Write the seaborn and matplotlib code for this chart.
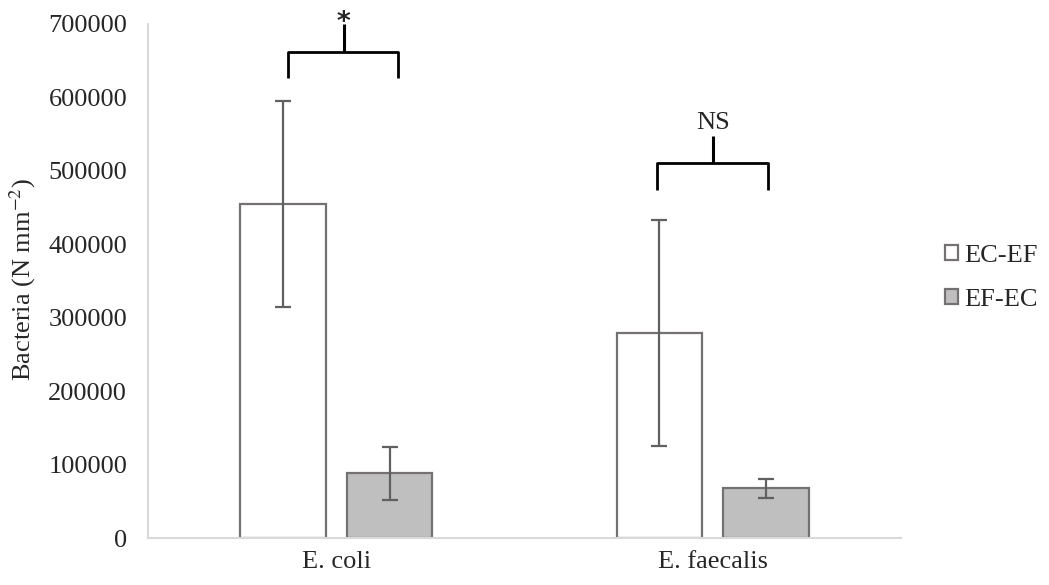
import matplotlib
matplotlib.use("Agg")
import matplotlib.pyplot as plt
import seaborn as sns
import pandas as pd
import numpy as np
from matplotlib.patches import Patch

# ---- data ----
categories = ["E. coli", "E. faecalis"]
groups = ["EC-EF", "EF-EC"]
ec_ef_mean = [455000, 279000]
ec_ef_err = [140000, 154000]
ef_ec_mean = [88000, 68000]
ef_ec_err = [36000, 13000]
sig_labels = ["*", "NS"]
bracket_y = [662000, 511000]      # bracket bar height (data units)
bracket_leg = [626000, 474000]    # leg bottom
bracket_top = [700000, 547500]    # centre tick top
yticks = [0, 100000, 200000, 300000, 400000, 500000, 600000, 700000]

df = pd.DataFrame({
    "cat": categories * 2,
    "grp": [groups[0]] * 2 + [groups[1]] * 2,
    "val": ec_ef_mean + ef_ec_mean,
})
errs = {groups[0]: ec_ef_err, groups[1]: ef_ec_err}

sns.set_style("white")
plt.rcParams["font.family"] = ["Liberation Serif", "DejaVu Serif"]
plt.rcParams["mathtext.fontset"] = "stix"

fig = plt.figure(figsize=(10.49, 5.85), dpi=100)
ax = fig.add_axes([0.1411, 0.0803, 0.7178, 0.8787])

palette = {groups[0]: "#ffffff", groups[1]: "#bfbfbf"}
sns.barplot(data=df, x="cat", y="val", hue="grp", order=categories,
            hue_order=groups, palette=palette, width=0.566, gap=0.2,
            errorbar=None, edgecolor="#767171", linewidth=1.6, ax=ax,
            legend=False)

# error bars from the drawn patches
for gi, g in enumerate(groups):
    cont = ax.containers[gi]
    for ci, bar in enumerate(cont):
        xc = bar.get_x() + bar.get_width() / 2
        ax.errorbar(xc, bar.get_height(), yerr=errs[g][ci], fmt="none",
                    ecolor="#606060", elinewidth=1.6, capsize=6,
                    capthick=1.6, zorder=5)

# significance brackets
offsets = [(-0.129, 0.165, 0.02), (-0.147, 0.147, 0.0)]
for i, lab in enumerate(sig_labels):
    l, r, c = offsets[i]
    xl, xr, xc = i + l, i + r, i + c
    ax.plot([xl, xl, xr, xr], [bracket_leg[i], bracket_y[i], bracket_y[i], bracket_leg[i]],
            color="black", lw=2, clip_on=False, solid_capstyle="butt")
    ax.plot([xc, xc], [bracket_y[i], bracket_top[i]], color="black", lw=2.2,
            clip_on=False, solid_capstyle="butt")
    if lab == "*":
        ax.text(xc, 692000, lab, ha="center", va="baseline",
                fontsize=19, family="DejaVu Sans", fontweight="bold", clip_on=False)
    else:
        ax.text(xc, bracket_top[i] + 3000, lab, ha="center", va="bottom",
                fontsize=19, clip_on=False)

ax.set_ylim(0, 700000)
ax.set_xlim(-0.5, 1.5)
ax.set_yticks(yticks)
ax.set_yticklabels([str(v) for v in yticks], fontsize=19)
ax.set_xticks(range(len(categories)))
ax.set_xticklabels(categories, fontsize=19)
ax.tick_params(axis="both", length=0)
ax.tick_params(axis="y", pad=15)
ax.tick_params(axis="x", pad=9)
ax.set_xlabel("")
ax.set_ylabel(r"Bacteria (N mm$^{-2}$)", fontsize=19)
ax.yaxis.set_label_coords(-0.146, 0.502)

for s in ["top", "right"]:
    ax.spines[s].set_visible(False)
for s in ["left", "bottom"]:
    ax.spines[s].set_color("#d9d9d9")
    ax.spines[s].set_linewidth(1.5)

handles = [Patch(facecolor=palette[g], edgecolor="#767171", linewidth=1.6, label=g)
           for g in groups]
fig.legend(handles=handles, loc="center left", bbox_to_anchor=(0.901, 0.525),
           frameon=False, fontsize=19, handlelength=0.48, handleheight=0.48,
           handletextpad=0.25, labelspacing=0.85, borderpad=0, borderaxespad=0)

fig.savefig("out.png", dpi=100)
